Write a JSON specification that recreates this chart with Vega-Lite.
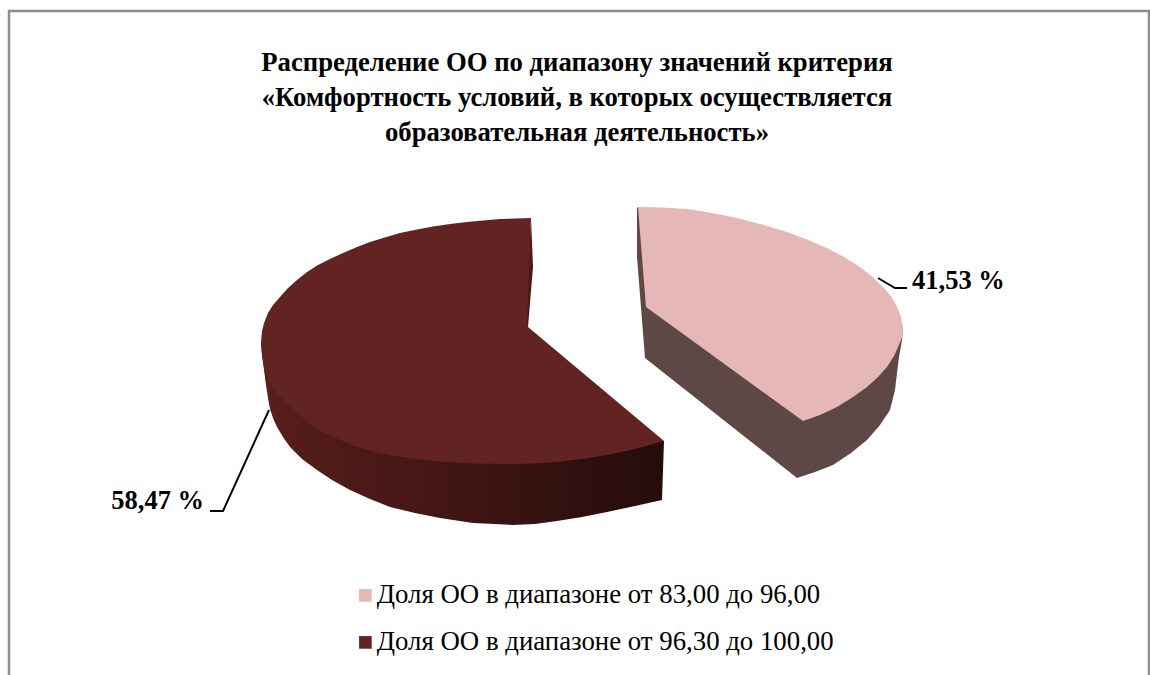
{"$schema":"https://vega.github.io/schema/vega-lite/v6.json","width":1150,"height":675,"padding":0,"autosize":{"type":"none"},"background":"white","config":{"view":{"stroke":null},"font":"Liberation Serif"},
"title":{"text":["Распределение ОО по диапазону значений критерия","«Комфортность условий, в которых осуществляется","образовательная деятельность»"],"anchor":"middle","frame":"group","offset":-147,"font":"Liberation Serif","fontSize":26.7,"fontWeight":"bold","color":"#000000","lineHeight":35,"dx":2},
"datasets":{"outlines":[
{"part":"frame","i":0,"x":9,"y":675},{"part":"frame","i":1,"x":9,"y":11},{"part":"frame","i":2,"x":1149,"y":11},{"part":"frame","i":3,"x":1149,"y":675},
{"part":"leaderA","i":0,"x":878,"y":278},{"part":"leaderA","i":1,"x":895,"y":288},{"part":"leaderA","i":2,"x":907,"y":288},
{"part":"leaderB","i":0,"x":269,"y":410},{"part":"leaderB","i":1,"x":223,"y":511},{"part":"leaderB","i":2,"x":210,"y":511},
{"part":"darkSide","i":0,"x":261,"y":343},{"part":"darkSide","i":1,"x":262,"y":355},{"part":"darkSide","i":2,"x":264,"y":370},{"part":"darkSide","i":3,"x":266,"y":385},{"part":"darkSide","i":4,"x":268,"y":398},{"part":"darkSide","i":5,"x":270,"y":409},{"part":"darkSide","i":6,"x":273,"y":418},{"part":"darkSide","i":7,"x":277,"y":427},{"part":"darkSide","i":8,"x":283,"y":437},{"part":"darkSide","i":9,"x":290,"y":447},{"part":"darkSide","i":10,"x":302,"y":459},{"part":"darkSide","i":11,"x":317,"y":470},{"part":"darkSide","i":12,"x":332,"y":480},{"part":"darkSide","i":13,"x":350,"y":490},{"part":"darkSide","i":14,"x":370,"y":499},{"part":"darkSide","i":15,"x":390,"y":507},{"part":"darkSide","i":16,"x":415,"y":513},{"part":"darkSide","i":17,"x":440,"y":518},{"part":"darkSide","i":18,"x":473,"y":523},{"part":"darkSide","i":19,"x":513,"y":525},{"part":"darkSide","i":20,"x":535,"y":524},{"part":"darkSide","i":21,"x":557,"y":521},{"part":"darkSide","i":22,"x":582,"y":517},{"part":"darkSide","i":23,"x":607,"y":512},{"part":"darkSide","i":24,"x":635,"y":506},{"part":"darkSide","i":25,"x":662,"y":500},{"part":"darkSide","i":26,"x":664,"y":441},{"part":"darkSide","i":27,"x":261,"y":343},
{"part":"darkStrip","i":0,"x":531,"y":218},{"part":"darkStrip","i":1,"x":533,"y":267},{"part":"darkStrip","i":2,"x":528,"y":327},{"part":"darkStrip","i":3,"x":525,"y":325},{"part":"darkStrip","i":4,"x":531,"y":218},
{"part":"darkTop","i":0,"x":261,"y":342},{"part":"darkTop","i":1,"x":262,"y":331},{"part":"darkTop","i":2,"x":264,"y":323},{"part":"darkTop","i":3,"x":268,"y":313},{"part":"darkTop","i":4,"x":273,"y":305},{"part":"darkTop","i":5,"x":280,"y":297},{"part":"darkTop","i":6,"x":287,"y":289},{"part":"darkTop","i":7,"x":297,"y":280},{"part":"darkTop","i":8,"x":307,"y":272},{"part":"darkTop","i":9,"x":318,"y":265},{"part":"darkTop","i":10,"x":330,"y":259},{"part":"darkTop","i":11,"x":343,"y":253},{"part":"darkTop","i":12,"x":357,"y":247},{"part":"darkTop","i":13,"x":370,"y":242},{"part":"darkTop","i":14,"x":383,"y":238},{"part":"darkTop","i":15,"x":400,"y":233},{"part":"darkTop","i":16,"x":417,"y":229.5},{"part":"darkTop","i":17,"x":433,"y":226.5},{"part":"darkTop","i":18,"x":450,"y":224},{"part":"darkTop","i":19,"x":467,"y":222},{"part":"darkTop","i":20,"x":483,"y":220.5},{"part":"darkTop","i":21,"x":500,"y":219},{"part":"darkTop","i":22,"x":515,"y":218.5},{"part":"darkTop","i":23,"x":531,"y":218},{"part":"darkTop","i":24,"x":527,"y":325},{"part":"darkTop","i":25,"x":528,"y":327},{"part":"darkTop","i":26,"x":664,"y":441},{"part":"darkTop","i":27,"x":635,"y":449},{"part":"darkTop","i":28,"x":607,"y":455},{"part":"darkTop","i":29,"x":582,"y":459},{"part":"darkTop","i":30,"x":557,"y":462},{"part":"darkTop","i":31,"x":535,"y":463.5},{"part":"darkTop","i":32,"x":513,"y":464},{"part":"darkTop","i":33,"x":473,"y":463.5},{"part":"darkTop","i":34,"x":440,"y":461.5},{"part":"darkTop","i":35,"x":415,"y":459},{"part":"darkTop","i":36,"x":390,"y":455},{"part":"darkTop","i":37,"x":373,"y":451.5},{"part":"darkTop","i":38,"x":357,"y":447},{"part":"darkTop","i":39,"x":340,"y":440},{"part":"darkTop","i":40,"x":323,"y":432},{"part":"darkTop","i":41,"x":309,"y":423},{"part":"darkTop","i":42,"x":297,"y":413},{"part":"darkTop","i":43,"x":286,"y":403},{"part":"darkTop","i":44,"x":277,"y":393},{"part":"darkTop","i":45,"x":270,"y":383},{"part":"darkTop","i":46,"x":265,"y":373},{"part":"darkTop","i":47,"x":262,"y":355},{"part":"darkTop","i":48,"x":261,"y":342},
{"part":"pinkSide","i":0,"x":637,"y":208},{"part":"pinkSide","i":1,"x":637,"y":257},{"part":"pinkSide","i":2,"x":645,"y":358},{"part":"pinkSide","i":3,"x":797,"y":478},{"part":"pinkSide","i":4,"x":815,"y":472},{"part":"pinkSide","i":5,"x":833,"y":465},{"part":"pinkSide","i":6,"x":851,"y":453},{"part":"pinkSide","i":7,"x":867,"y":440},{"part":"pinkSide","i":8,"x":880,"y":425},{"part":"pinkSide","i":9,"x":890,"y":410},{"part":"pinkSide","i":10,"x":895,"y":390},{"part":"pinkSide","i":11,"x":897,"y":373},{"part":"pinkSide","i":12,"x":899,"y":357},{"part":"pinkSide","i":13,"x":902,"y":340},{"part":"pinkSide","i":14,"x":903,"y":327},{"part":"pinkSide","i":15,"x":638,"y":207},{"part":"pinkSide","i":16,"x":637,"y":208},
{"part":"pinkTop","i":0,"x":638,"y":207},{"part":"pinkTop","i":1,"x":662,"y":207.5},{"part":"pinkTop","i":2,"x":687,"y":209},{"part":"pinkTop","i":3,"x":712,"y":213},{"part":"pinkTop","i":4,"x":737,"y":218},{"part":"pinkTop","i":5,"x":762,"y":224.5},{"part":"pinkTop","i":6,"x":787,"y":232},{"part":"pinkTop","i":7,"x":807,"y":239.5},{"part":"pinkTop","i":8,"x":827,"y":248},{"part":"pinkTop","i":9,"x":844,"y":257},{"part":"pinkTop","i":10,"x":860,"y":267},{"part":"pinkTop","i":11,"x":872,"y":276.5},{"part":"pinkTop","i":12,"x":883,"y":287},{"part":"pinkTop","i":13,"x":891,"y":296},{"part":"pinkTop","i":14,"x":897,"y":307},{"part":"pinkTop","i":15,"x":901,"y":317},{"part":"pinkTop","i":16,"x":903,"y":327},{"part":"pinkTop","i":17,"x":902.5,"y":336},{"part":"pinkTop","i":18,"x":899,"y":345},{"part":"pinkTop","i":19,"x":894,"y":356},{"part":"pinkTop","i":20,"x":887,"y":367},{"part":"pinkTop","i":21,"x":878,"y":377},{"part":"pinkTop","i":22,"x":867,"y":387},{"part":"pinkTop","i":23,"x":853,"y":397},{"part":"pinkTop","i":24,"x":837,"y":407},{"part":"pinkTop","i":25,"x":820,"y":415},{"part":"pinkTop","i":26,"x":803,"y":421},{"part":"pinkTop","i":27,"x":646,"y":307},{"part":"pinkTop","i":28,"x":638,"y":207}
],
"shares":[
{"series":"Доля ОО в диапазоне от 83,00 до 96,00","share":41.53,"label":"41,53 %","x":912,"y":281,"side":"left"},
{"series":"Доля ОО в диапазоне от 96,30 до 100,00","share":58.47,"label":"58,47 %","x":204,"y":501,"side":"right"}
]},
"encoding":{"x":{"field":"x","type":"quantitative","axis":null,"scale":{"domain":[0,1150],"nice":false,"zero":false}},"y":{"field":"y","type":"quantitative","axis":null,"scale":{"domain":[675,0],"nice":false,"zero":false}}},
"layer":[
{"data":{"name":"outlines"},"transform":[{"filter":"datum.part==='frame'"}],"mark":{"type":"line","stroke":"#8c8c8c","strokeWidth":2.5,"clip":false},"encoding":{"order":{"field":"i"}}},
{"data":{"name":"outlines"},"transform":[{"filter":"datum.part==='darkSide'"}],"mark":{"type":"line","strokeWidth":0,"fill":{"gradient":"linear","x1":0,"x2":1,"y1":0,"y2":0,"stops":[{"offset":0,"color":"#581e1c"},{"offset":0.45,"color":"#421614"},{"offset":1,"color":"#250c0b"}]}},"encoding":{"order":{"field":"i"}}},
{"data":{"name":"outlines"},"transform":[{"filter":"datum.part==='darkStrip'"}],"mark":{"type":"line","strokeWidth":0,"fill":"#4a1917"},"encoding":{"order":{"field":"i"}}},
{"data":{"name":"outlines"},"transform":[{"filter":"datum.part==='darkTop'"}],"mark":{"type":"line","strokeWidth":0,"fill":"#622423"},"encoding":{"order":{"field":"i"}}},
{"data":{"name":"outlines"},"transform":[{"filter":"datum.part==='pinkSide'"}],"mark":{"type":"line","strokeWidth":0,"fill":"#5d4846"},"encoding":{"order":{"field":"i"}}},
{"data":{"name":"outlines"},"transform":[{"filter":"datum.part==='pinkTop'"}],"mark":{"type":"line","strokeWidth":0,"fill":"#e6b7b7"},"encoding":{"order":{"field":"i"}}},
{"data":{"name":"outlines"},"transform":[{"filter":"datum.part==='leaderA'||datum.part==='leaderB'"}],"mark":{"type":"line","stroke":"#000000","strokeWidth":2},"encoding":{"detail":{"field":"part"},"order":{"field":"i"}}},
{"data":{"name":"shares"},"mark":{"type":"square","size":0,"filled":true},"encoding":{"color":{"field":"series","type":"nominal","title":null,"scale":{"domain":["Доля ОО в диапазоне от 83,00 до 96,00","Доля ОО в диапазоне от 96,30 до 100,00"],"range":["#e6b7b7","#622423"]},"legend":{"orient":"none","legendX":352,"legendY":582,"direction":"vertical","symbolType":"square","symbolSize":160,"symbolOpacity":1,"symbolStrokeWidth":0,"labelFont":"Liberation Serif","labelFontSize":26.8,"labelColor":"#000000","labelLimit":600,"rowPadding":19,"labelOffset":-2,"padding":0}}}},
{"data":{"name":"shares"},"transform":[{"filter":"datum.side==='left'"}],"mark":{"type":"text","align":"left","baseline":"middle","font":"Liberation Serif","fontWeight":"bold","fontSize":26.5,"color":"#000000"},"encoding":{"text":{"field":"label"}}},
{"data":{"name":"shares"},"transform":[{"filter":"datum.side==='right'"}],"mark":{"type":"text","align":"right","baseline":"middle","font":"Liberation Serif","fontWeight":"bold","fontSize":26.5,"color":"#000000"},"encoding":{"text":{"field":"label"}}}
]}
